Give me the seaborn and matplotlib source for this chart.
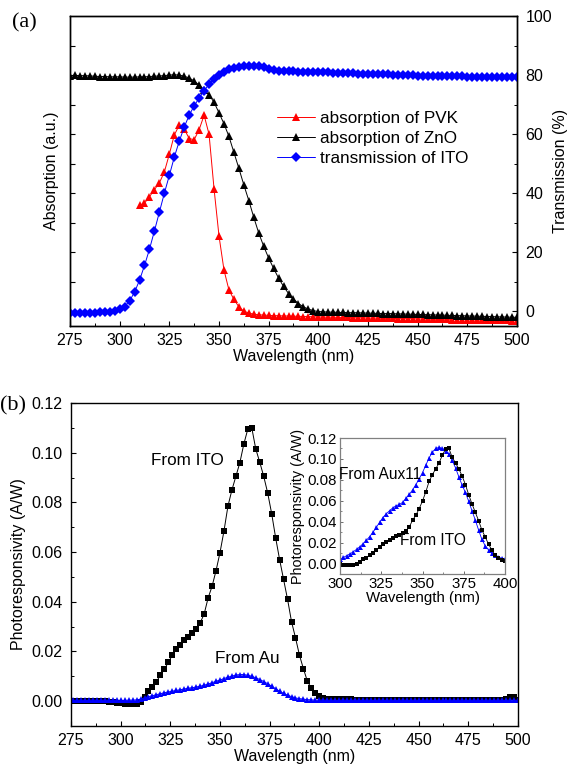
import numpy as np
import matplotlib
matplotlib.use("Agg")
import matplotlib.pyplot as plt
from matplotlib.ticker import MultipleLocator, FormatStrFormatter, NullFormatter, FixedLocator
from matplotlib import font_manager
import seaborn as sns

# ---------------- data ----------------
# (a) absorption spectra of the layers and transmission of ITO
wl_a = np.arange(275, 500.1, 2.5)
zno_abs = [
    79.8, 79.9, 79.8, 79.8, 79.7, 79.6, 79.5, 79.5, 79.4, 79.4,
    79.4, 79.3, 79.3, 79.3, 79.4, 79.4, 79.5, 79.6, 79.7, 79.8,
    80.0, 80.1, 80.0, 79.6, 79.0, 78.0, 76.6, 75.0, 73.3, 70.8,
    67.2, 63.5, 59.2, 53.8, 48.4, 42.8, 37.5, 31.8, 26.5, 22.0,
    18.0, 14.5, 11.2, 8.4, 6.0, 4.1, 2.6, 1.5, 0.7, 0.2,
    -0.1, -0.2, -0.3, -0.3, -0.4, -0.4, -0.5, -0.5, -0.5, -0.6,
    -0.6, -0.7, -0.7, -0.8, -0.8, -0.8, -0.9, -0.9, -1.0, -1.0,
    -1.1, -1.1, -1.2, -1.2, -1.3, -1.3, -1.4, -1.4, -1.5, -1.5,
    -1.6, -1.6, -1.7, -1.7, -1.8, -1.8, -1.9, -1.9, -2.0, -2.0,
    -2.1,
]
ito_trans = [
    -0.5, -0.5, -0.5, -0.5, -0.5, -0.5, -0.4, -0.3, -0.2, 0.1,
    0.6, 1.6, 3.5, 6.5, 10.5, 15.5, 21.0, 27.2, 33.6, 40.0,
    46.0, 52.2, 57.6, 62.4, 66.4, 69.6, 72.2, 74.7, 76.9, 78.7,
    80.1, 81.2, 81.9, 82.4, 82.8, 83.0, 83.1, 82.9, 83.1, 82.6,
    82.1, 81.7, 81.5, 81.4, 81.3, 81.3, 81.2, 81.2, 81.1, 81.0,
    81.0, 80.9, 80.9, 80.8, 80.8, 80.7, 80.7, 80.6, 80.5, 80.5,
    80.4, 80.3, 80.3, 80.2, 80.2, 80.1, 80.0, 80.0, 79.9, 79.9,
    79.8, 79.8, 79.8, 79.7, 79.7, 79.7, 79.6, 79.6, 79.6, 79.6,
    79.5, 79.5, 79.5, 79.5, 79.4, 79.4, 79.4, 79.4, 79.4, 79.4,
    79.3,
]
wl_pvk = np.arange(310, 500.1, 2.5)
pvk_abs = [
    35.9, 36.6, 38.8, 41.2, 43.5, 47.2, 53.2, 59.7, 63.0, 61.7,
    58.5, 58.1, 61.5, 66.4, 59.9, 41.5, 25.5, 14.0, 7.2, 4.0,
    1.5, 0.0, -0.6, -1.0, -1.2, -1.3, -1.4, -1.5, -1.5, -1.6,
    -1.6, -1.7, -1.7, -1.8, -1.8, -1.9, -1.9, -2.0, -2.0, -2.0,
    -2.1, -2.1, -2.1, -2.2, -2.2, -2.2, -2.3, -2.3, -2.3, -2.4,
    -2.4, -2.4, -2.5, -2.5, -2.5, -2.5, -2.6, -2.6, -2.6, -2.7,
    -2.7, -2.7, -2.7, -2.8, -2.8, -2.8, -2.9, -2.9, -2.9, -3.0,
    -3.0, -3.0, -3.1, -3.1, -3.1, -3.2, -3.2,
]

# (b) photoresponsivity under illumination from the ITO side and the Au side
wl_b = np.arange(276, 500.1, 2)
resp_ito = [
    0.0000, 0.0000, 0.0001, 0.0000, 0.0000, 0.0001, 0.0000, 0.0000, 0.0000, -0.0002,
    -0.0004, -0.0006, -0.0008, -0.0010, -0.0011, -0.0011, -0.0010, -0.0004, 0.0018, 0.0040,
    0.0056, 0.0078, 0.0105, 0.0128, 0.0157, 0.0185, 0.0210, 0.0228, 0.0246, 0.0260,
    0.0273, 0.0290, 0.0315, 0.0350, 0.0415, 0.0462, 0.0525, 0.0598, 0.0685, 0.0785,
    0.0850, 0.0905, 0.0960, 0.1035, 0.1095, 0.1100, 0.1015, 0.0962, 0.0905, 0.0838,
    0.0755, 0.0658, 0.0570, 0.0490, 0.0410, 0.0320, 0.0255, 0.0185, 0.0130, 0.0080,
    0.0052, 0.0033, 0.0020, 0.0013, 0.0010, 0.0009, 0.0008, 0.0008, 0.0007, 0.0007,
    0.0007, 0.0006, 0.0006, 0.0006, 0.0006, 0.0005, 0.0005, 0.0005, 0.0005, 0.0005,
    0.0005, 0.0004, 0.0004, 0.0004, 0.0004, 0.0004, 0.0004, 0.0004, 0.0004, 0.0004,
    0.0004, 0.0004, 0.0004, 0.0003, 0.0003, 0.0003, 0.0003, 0.0003, 0.0003, 0.0003,
    0.0003, 0.0003, 0.0003, 0.0003, 0.0003, 0.0003, 0.0003, 0.0003, 0.0004, 0.0010,
    0.0016, 0.0015, 0.0004,
]
resp_au = [
    0.0003, 0.0003, 0.0004, 0.0003, 0.0003, 0.0004, 0.0003, 0.0003, 0.0004, 0.0003,
    0.0003, 0.0004, 0.0003, 0.0003, 0.0004, 0.0004, 0.0005, 0.0008, 0.0013, 0.0018,
    0.0022, 0.0026, 0.0030, 0.0034, 0.0037, 0.0040, 0.0043, 0.0046, 0.0049, 0.0052,
    0.0054, 0.0057, 0.0060, 0.0064, 0.0069, 0.0074, 0.0080, 0.0085, 0.0091, 0.0096,
    0.0101, 0.0105, 0.0107, 0.0107, 0.0104, 0.0100, 0.0094, 0.0087, 0.0079, 0.0070,
    0.0060, 0.0050, 0.0040, 0.0031, 0.0024, 0.0018, 0.0013, 0.0010, 0.0008, 0.0006,
    0.0005, 0.0004, 0.0004, 0.0004, 0.0003, 0.0004, 0.0003, 0.0003, 0.0004, 0.0003,
    0.0003, 0.0004, 0.0003, 0.0003, 0.0004, 0.0003, 0.0003, 0.0004, 0.0003, 0.0003,
    0.0004, 0.0003, 0.0003, 0.0004, 0.0003, 0.0003, 0.0004, 0.0003, 0.0003, 0.0004,
    0.0003, 0.0003, 0.0004, 0.0003, 0.0003, 0.0004, 0.0003, 0.0003, 0.0004, 0.0003,
    0.0003, 0.0004, 0.0003, 0.0003, 0.0004, 0.0003, 0.0003, 0.0004, 0.0003, 0.0003,
    0.0004, 0.0003, 0.0003,
]

# inset: Aux11 electrode compared with ITO
wl_inset = np.arange(300, 400.1, 2)
resp_aux11 = [
    0.0041, 0.0058, 0.0075, 0.0092, 0.0112, 0.0135, 0.0160, 0.0190, 0.0222, 0.0258,
    0.0300, 0.0345, 0.0395, 0.0440, 0.0475, 0.0505, 0.0532, 0.0552, 0.0565, 0.0585,
    0.0625, 0.0660, 0.0705, 0.0755, 0.0810, 0.0870, 0.0940, 0.1010, 0.1065, 0.1100,
    0.1110, 0.1100, 0.1080, 0.1050, 0.0985, 0.0915, 0.0830, 0.0750, 0.0680, 0.0595,
    0.0505, 0.0415, 0.0320, 0.0230, 0.0170, 0.0130, 0.0100, 0.0080, 0.0062, 0.0050,
    0.0045,
]

x_ticks = [275, 300, 325, 350, 375, 400, 425, 450, 475, 500]
inset_x_ticks = [300, 325, 350, 375, 400]

# ---------------- style ----------------
sns.set_theme(style="ticks")
plt.rcParams["font.family"] = ["Liberation Sans", "DejaVu Sans"]
plt.rcParams["axes.linewidth"] = 1.0
plt.rcParams["axes.edgecolor"] = "black"
plt.rcParams["text.color"] = "black"
plt.rcParams["axes.labelcolor"] = "black"
plt.rcParams["xtick.color"] = "black"
plt.rcParams["ytick.color"] = "black"

installed = {f.name for f in font_manager.fontManager.ttflist}
narrow = ["Liberation Sans Narrow", "Liberation Sans"] if "Liberation Sans Narrow" in installed else ["Liberation Sans"]

W, H = 569, 767
fig = plt.figure(figsize=(W / 100, H / 100), dpi=100)


def rect(x0, y0, x1, y1):
    return [x0 / W, 1 - y1 / H, (x1 - x0) / W, (y1 - y0) / H]


FS = 11.5
FS_NOTE = 12.3
RED, BLUE, BLACK = "#ff0000", "#0000ff", "black"


def style_ticks(ax, which_axes="both", length=3.5, mlength=2.0):
    ax.tick_params(axis=which_axes, which="major", direction="in", length=length, width=0.8)
    ax.tick_params(axis=which_axes, which="minor", direction="in", length=mlength, width=0.7)


# ---------------- panel (a) ----------------
ax_a = fig.add_axes(rect(70, 16, 517, 326))
sns.lineplot(x=wl_pvk, y=pvk_abs, ax=ax_a, color=RED, marker="^", markersize=5.6,
             markeredgewidth=0, linewidth=0.7, label="absorption of PVK")
sns.lineplot(x=wl_a, y=zno_abs, ax=ax_a, color=BLACK, marker="^", markersize=5.6,
             markeredgewidth=0, linewidth=0.7, label="absorption of ZnO")
ax_a2 = ax_a.twinx()
sns.lineplot(x=wl_a, y=ito_trans, ax=ax_a2, color=BLUE, marker="D", markersize=4.9,
             markeredgewidth=0, linewidth=0.7, label="transmission of ITO")

for a in (ax_a, ax_a2):
    if a.get_legend() is not None:
        a.get_legend().remove()
    a.set_xlim(275, 500)
    a.set_ylim(-5, 100)

ax_a.xaxis.set_major_locator(FixedLocator(x_ticks))
ax_a.xaxis.set_minor_locator(MultipleLocator(12.5))
ax_a.yaxis.set_major_locator(FixedLocator([0, 10, 20, 30, 40, 50, 60, 70, 80, 90]))
ax_a.yaxis.set_major_formatter(NullFormatter())
style_ticks(ax_a)
ax_a.tick_params(axis="x", top=False, labelsize=FS, pad=5)
ax_a.tick_params(axis="y", right=False, labelleft=False)
ax_a.set_xlabel("Wavelength (nm)", fontsize=FS, labelpad=1)
ax_a.set_ylabel("Absorption (a.u.)", fontsize=FS, labelpad=8)

ax_a2.yaxis.set_major_locator(MultipleLocator(20))
ax_a2.yaxis.set_minor_locator(MultipleLocator(10))
style_ticks(ax_a2, "y")
ax_a2.tick_params(axis="y", labelsize=FS, pad=6)
ax_a2.set_ylabel("Transmission (%)", fontsize=FS, labelpad=1)
for s in ax_a2.spines.values():
    s.set_linewidth(1.0)
    s.set_color("black")

h1, l1 = ax_a.get_legend_handles_labels()
h2, l2 = ax_a2.get_legend_handles_labels()
ax_a2.legend(h1 + h2, l1 + l2, loc="upper left",
             bbox_to_anchor=(277 / W, 1 - 111 / H), bbox_transform=fig.transFigure,
             frameon=False, borderpad=0, borderaxespad=0, handlelength=2.2,
             handletextpad=0.32, labelspacing=0.3, fontsize=FS_NOTE, numpoints=1)

fig.text(24 / W, 1 - 23 / H, "(a)", family=["Liberation Serif", "DejaVu Serif"],
         fontsize=16, ha="center", va="center")

# ---------------- panel (b) ----------------
ax_b = fig.add_axes(rect(71, 403, 518, 726))
sns.lineplot(x=wl_b, y=resp_ito, ax=ax_b, color=BLACK, marker="s", markersize=5.0,
             markeredgewidth=0, linewidth=0.7)
sns.lineplot(x=wl_b, y=resp_au, ax=ax_b, color=BLUE, marker="^", markersize=4.6,
             markeredgewidth=0, linewidth=0.7)
ax_b.set_xlim(275, 500)
ax_b.set_ylim(-0.01, 0.12)
ax_b.xaxis.set_major_locator(FixedLocator(x_ticks))
ax_b.xaxis.set_minor_locator(MultipleLocator(12.5))
ax_b.yaxis.set_major_locator(MultipleLocator(0.02))
ax_b.yaxis.set_minor_locator(MultipleLocator(0.01))
ax_b.yaxis.set_major_formatter(FormatStrFormatter("%.2f"))
style_ticks(ax_b)
ax_b.tick_params(axis="both", top=False, right=False, labelsize=FS)
ax_b.tick_params(axis="x", pad=5)
ax_b.tick_params(axis="y", pad=6)
ax_b.set_xlabel("Wavelength (nm)", fontsize=FS, labelpad=1)
ax_b.set_ylabel("Photoresponsivity (A/W)", fontsize=FS, labelpad=4)
ax_b.text(333.4, 0.0967, "From ITO", fontsize=FS_NOTE, ha="center", va="center")
ax_b.text(363.6, 0.0173, "From Au", fontsize=FS_NOTE, ha="center", va="center")

fig.text(26 / W, 1 - 406 / H, "(b)", family=["Liberation Serif", "DejaVu Serif"],
         fontsize=16, ha="right", va="center")

# ---------------- inset ----------------
ax_in = fig.add_axes(rect(340, 438, 505, 574))
mask = (wl_b >= 300) & (wl_b <= 400)
sns.lineplot(x=wl_inset, y=resp_aux11, ax=ax_in, color=BLUE, marker="^", markersize=3.6,
             markeredgewidth=0, linewidth=0.6)
sns.lineplot(x=wl_b[mask], y=np.array(resp_ito)[mask], ax=ax_in, color=BLACK, marker="s",
             markersize=3.2, markeredgewidth=0, linewidth=0.6)
ax_in.set_xlim(300, 400)
ax_in.set_ylim(-0.01, 0.12)
ax_in.xaxis.set_major_locator(FixedLocator(inset_x_ticks))
ax_in.xaxis.set_minor_locator(MultipleLocator(12.5))
ax_in.yaxis.set_major_locator(MultipleLocator(0.02))
ax_in.yaxis.set_minor_locator(MultipleLocator(0.01))
ax_in.yaxis.set_major_formatter(FormatStrFormatter("%.2f"))
ax_in.tick_params(axis="both", which="major", direction="in", length=2.5, width=0.6,
                  color="#555555", top=False, right=False)
ax_in.tick_params(axis="both", which="minor", direction="in", length=1.5, width=0.5,
                  color="#555555", top=False, right=False)
ax_in.tick_params(axis="x", pad=2)
ax_in.tick_params(axis="y", pad=2)
for lab in ax_in.get_xticklabels() + ax_in.get_yticklabels():
    lab.set_family(narrow)
    lab.set_fontsize(10.8)
for s in ax_in.spines.values():
    s.set_color("#808080")
    s.set_linewidth(0.9)
ax_in.set_xlabel("Wavelength (nm)", fontsize=10.8, family=narrow, labelpad=0)
ax_in.set_ylabel("Photoresponsivity (A/W)", fontsize=10.4, labelpad=2)
ax_in.text(324.2, 0.0848, "From Aux11", fontsize=11.2, family=narrow, ha="center", va="center")
ax_in.text(356.4, 0.0219, "From ITO", fontsize=11.2, family=narrow, ha="center", va="center")

fig.savefig("out.png", dpi=100)
